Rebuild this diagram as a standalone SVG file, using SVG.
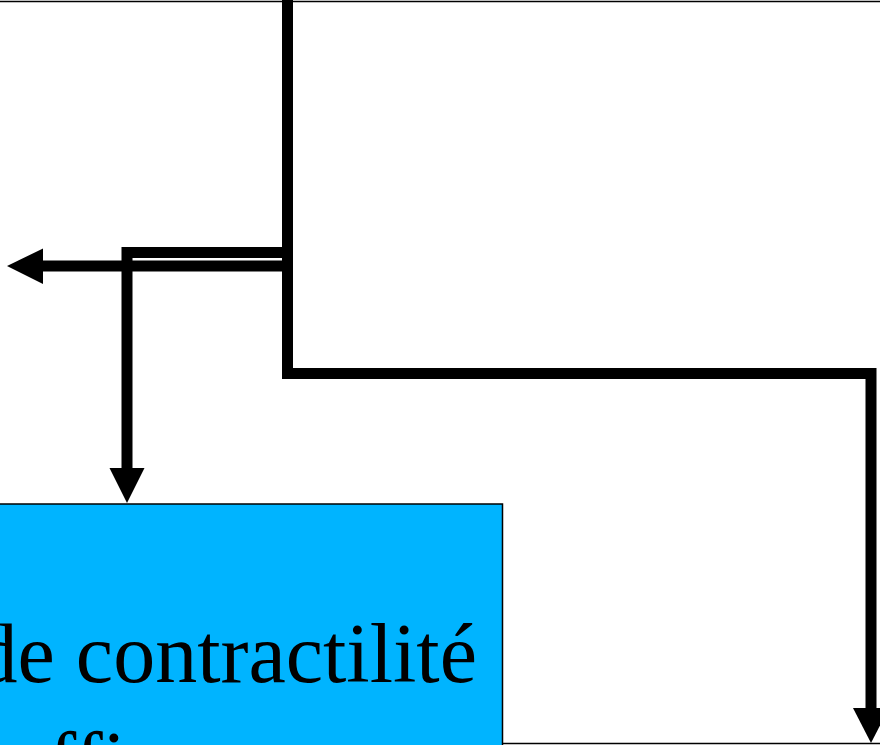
<svg xmlns="http://www.w3.org/2000/svg" width="880" height="745" viewBox="0 0 880 745">
  <style>
    .wire { fill: none; stroke: #000; stroke-width: 11; stroke-linejoin: miter; stroke-linecap: butt; }
    .head { fill: #000; stroke: none; }
    .edge { fill: none; stroke: #000; stroke-width: 1.5; }
    .label { font-family: "Liberation Serif", "Times New Roman", serif; font-size: 84px; fill: #000; }
  </style>
  <rect x="0" y="0" width="880" height="745" fill="#fff"/>

  <!-- edges of neighbouring boxes -->
  <g id="box-top">
    <line class="edge" x1="0" y1="1.5" x2="880" y2="1.5"/>
  </g>
  <g id="box-bottom-right">
    <line class="edge" x1="486" y1="743.5" x2="880" y2="743.5"/>
  </g>

  <!-- contractility box -->
  <g id="box-contractilite">
    <rect x="-60" y="504" width="562.5" height="320" fill="#00B4FF" stroke="#000" stroke-width="1.5"/>
    <text class="label" x="477" y="682" text-anchor="end">de contractilité</text>
    <text class="label" x="11" y="790">efficace</text>
  </g>

  <!-- connectors -->
  <g id="connectors">
    <path class="wire" d="M287.5,0 V373.5 H871 V709"/>
    <polygon class="head" points="853,708 889,708 871,743"/>
    <path class="wire" d="M287.5,266 H42"/>
    <polygon class="head" points="43,248.5 43,284 7,266"/>
    <path class="wire" d="M287.5,252.5 H127 V469"/>
    <polygon class="head" points="109.5,468 144.5,468 127,503"/>
  </g>
</svg>
